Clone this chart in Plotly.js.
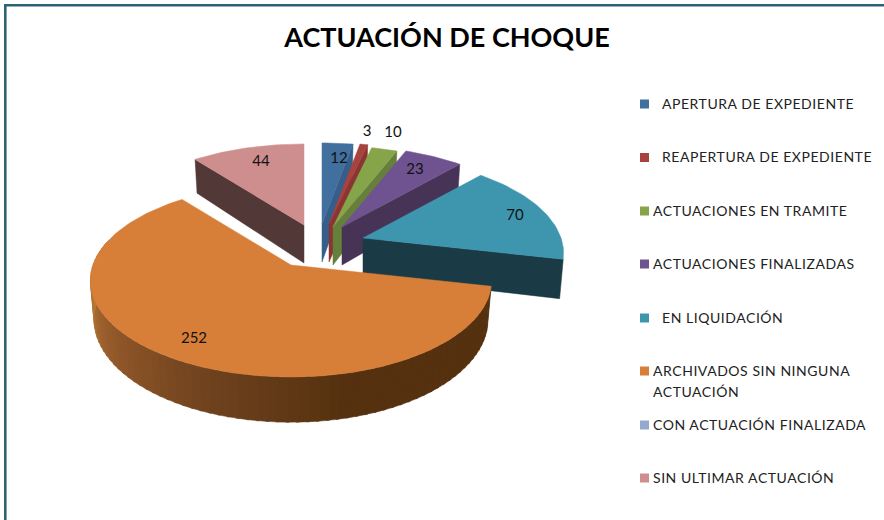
<!DOCTYPE html>
<html>
<head>
<meta charset="utf-8">
<script src="https://cdn.plot.ly/plotly-3.0.1.min.js"></script>
<style>
html,body{margin:0;padding:0;background:#fff}
#chart{width:884px;height:520px}
.annotation-text{letter-spacing:.55px}
</style>
</head>
<body>
<div id="chart"></div>
<script>
const titleText = 'ACTUACIÓN DE CHOQUE';
const categories = ['APERTURA DE EXPEDIENTE','REAPERTURA DE EXPEDIENTE','ACTUACIONES EN TRAMITE','ACTUACIONES FINALIZADAS','EN LIQUIDACIÓN','ARCHIVADOS SIN NINGUNA<br>ACTUACIÓN','CON ACTUACIÓN FINALIZADA','SIN ULTIMAR ACTUACIÓN'];
const values = [12,3,10,23,70,252,0,44];
const topColors = ['#41709F','#A8423F','#86A44A','#6F5390','#3D96AE','#D77E38','#93A9CF','#CE8E8D'];
const sideColors = ['#355E8A','#8A3532','#667F3A','#463355','#1A3A45','#55310F','#7A8CAC','#533838'];
const explodedApexX = [322,329,333,342,363,291,300,304];
const explodedApexY = [224,224,227,227,238,265,225,225];
const labelX = [339,367,393,415,515,194,null,261];
const labelY = [159,132,133,170,216,339.5,null,162];
const legendTextX = [662,662,653,653,662,653,653,653];
const legendRowY = [104,157.5,211,264,318,371,425,478];
const paintOrder = [7,0,1,2,3,4,5];

const RADIUS = 198, TILT = 0.475, PERSP = 0.16, DEPTH = 38, BOTTOM_SCALE = 0.982;
const total = values.reduce((a,b)=>a+b,0);
const startDeg = [];
values.reduce((acc,v,i)=>{startDeg[i]=acc;return acc+v/total*360;},0);

function rim(i,deg,bottom){
  const t = deg*Math.PI/180, u = Math.sin(t), v = -Math.cos(t), s = 1/(1-PERSP*v);
  const k = bottom ? BOTTOM_SCALE : 1;
  return [explodedApexX[i]+RADIUS*u*s*k, explodedApexY[i]+RADIUS*TILT*v*s+(bottom?DEPTH*s:0)];
}
function poly(pts,color){
  const xs = pts.map(p=>p[0]).concat([pts[0][0]]);
  const ys = pts.map(p=>p[1]).concat([pts[0][1]]);
  return {type:'scatter',mode:'lines',x:xs,y:ys,fill:'toself',fillcolor:color,
    line:{color:color,width:0.5},hoverinfo:'skip',showlegend:false};
}
function lerpHex(a,b,f){
  const pa=[1,3,5].map(j=>parseInt(a.substr(j,2),16)), pb=[1,3,5].map(j=>parseInt(b.substr(j,2),16));
  return 'rgb('+pa.map((c,j)=>Math.round(c+(pb[j]-c)*f)).join(',')+')';
}
const traces = [];
paintOrder.forEach(i=>{
  const a0 = startDeg[i], a1 = a0+values[i]/total*360;
  if(i===5){
    const stops=[[103,'#55310F'],[165,'#55310F'],[200,'#6F421E'],[235,'#93592A'],[268,'#BB7B36'],[285,'#BB7B36']];
    for(let d=stops[0][0];d<285;d+=2.5){
      const q=[rim(i,d,false),rim(i,d+3.2,false),rim(i,d+3.2,true),rim(i,d,true)];
      let c=stops[0][1];
      for(let k=0;k<stops.length-1;k++){
        if(d>=stops[k][0]&&d<=stops[k+1][0]){
          c=lerpHex(stops[k][1],stops[k+1][1],(d-stops[k][0])/(stops[k+1][0]-stops[k][0]));
        }
      }
      traces.push(poly(q,c));
    }
  } else {
    const edge = (i===7)? a0 : a1;
    const apexTop=[explodedApexX[i],explodedApexY[i]], apexBot=[explodedApexX[i],explodedApexY[i]+DEPTH];
    traces.push(poly([apexTop,rim(i,edge,false),rim(i,edge,true),apexBot],sideColors[i]));
  }
  const pts=[[explodedApexX[i],explodedApexY[i]]];
  for(let d=a0;d<a1;d+=1.5) pts.push(rim(i,d,false));
  pts.push(rim(i,a1,false));
  traces.push(poly(pts,topColors[i]));
});
const shown = values.map((v,i)=>i).filter(i=>values[i]>0);
traces.push({type:'scatter',mode:'text',x:shown.map(i=>labelX[i]),y:shown.map(i=>labelY[i]),
  text:shown.map(i=>String(values[i])),textposition:'middle center',
  textfont:{family:'Lato, sans-serif',size:15,color:'#111'},hoverinfo:'skip',showlegend:false});
traces.push({type:'scatter',mode:'markers',x:legendRowY.map(()=>644.5),y:legendRowY,
  marker:{symbol:'square',size:9,color:topColors,line:{width:0}},hoverinfo:'skip',showlegend:false});

const annotations=[];
categories.forEach((c,i)=>{
  c.split('<br>').forEach((line,j)=>{
    annotations.push({x:legendTextX[i],y:legendRowY[i]+21.5*j,xref:'x',yref:'y',text:line,showarrow:false,
      xanchor:'left',yanchor:'middle',xshift:-2,yshift:1,font:{family:'Lato, sans-serif',size:14,color:'#222'}});
  });
});
const layout={
  width:884,height:520,margin:{l:0,r:0,t:0,b:0},paper_bgcolor:'#fff',plot_bgcolor:'#fff',showlegend:false,
  title:{text:'<b>'+titleText+'</b>',x:447/884,y:1-38/520,xanchor:'center',yanchor:'middle',
    font:{family:'Lato, sans-serif',size:27,color:'#000'}},
  xaxis:{range:[0,884],visible:false,fixedrange:true},
  yaxis:{range:[520,0],visible:false,fixedrange:true},
  annotations:annotations,
  shapes:[
    {type:'line',xref:'x',yref:'y',x0:4,x1:884,y0:5.3,y1:5.3,line:{color:'#2E6275',width:2.6}},
    {type:'line',xref:'x',yref:'y',x0:5.3,x1:5.3,y0:4,y1:520,line:{color:'#2E6275',width:2.6}}
  ]
};
Plotly.newPlot('chart',traces,layout,{displayModeBar:false,staticPlot:true});
</script>
</body>
</html>
